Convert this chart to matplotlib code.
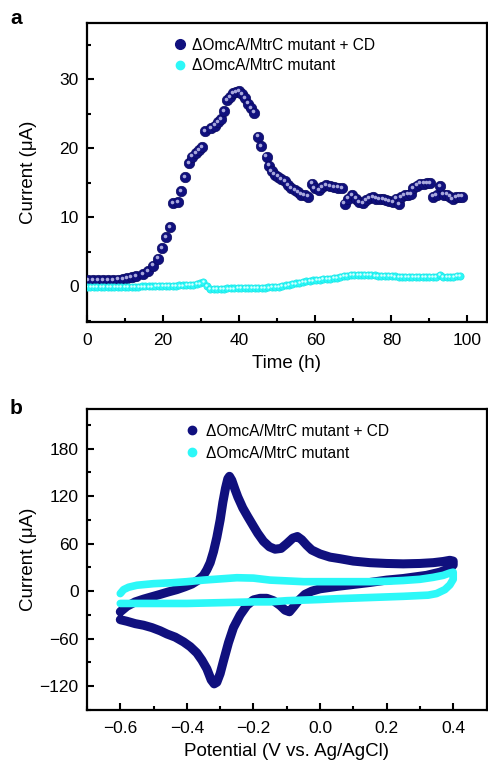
import numpy as np
import matplotlib
matplotlib.use("Agg")
import matplotlib.pyplot as plt
from matplotlib.lines import Line2D
from matplotlib.transforms import offset_copy
from matplotlib.ticker import MultipleLocator

plt.rcParams['font.family'] = ['Liberation Sans', 'DejaVu Sans']
plt.rcParams['mathtext.default'] = 'regular'

NAVY = '#10107e'
NAVY_HI = '#a8a8dc'
CYAN = '#2cf8f8'
CYAN_HI = '#d8ffff'

label_cd = "\u0394OmcA/MtrC mutant + CD"
label_mut = "\u0394OmcA/MtrC mutant"

# ---- panel a: chronoamperometry ----
time_cd = [0.3, 1.6, 2.9, 4.2, 5.5, 6.8, 8.1, 9.4, 10.6, 11.7, 13.0, 14.8, 16.1, 17.4,
           18.7, 19.8, 20.7, 21.9, 22.7, 23.9, 24.8, 25.7, 26.9, 27.7, 28.6, 29.5, 30.3,
           31.0, 32.7, 33.6, 34.5, 35.2, 36.0, 36.8, 37.6, 38.4, 39.2, 40.0, 40.8, 41.6,
           42.4, 43.2, 43.9, 45.0, 45.8, 47.2, 47.9, 48.5, 49.3, 50.2, 51.1, 52.0, 52.8,
           53.7, 54.6, 55.5, 56.3, 57.2, 58.1, 59.1, 59.8, 61.0, 61.8, 62.9, 63.9, 64.9,
           66.0, 67.1, 67.7, 68.6, 69.7, 70.8, 71.6, 72.5, 73.4, 74.3, 75.1, 76.0, 76.9,
           77.8, 78.7, 79.5, 80.4, 81.3, 82.0, 82.6, 83.5, 84.3, 85.2, 85.8, 86.7, 87.6,
           88.5, 89.3, 90.2, 90.9, 91.9, 92.8, 93.7, 94.6, 95.4, 96.1, 97.0, 97.9, 98.6]
current_cd = [0.85, 0.85, 0.85, 0.85, 0.9, 0.9, 0.95, 1.05, 1.2, 1.35, 1.45, 1.7, 2.2, 3.0,
              4.0, 5.5, 7.1, 8.6, 12.1, 12.2, 13.8, 15.8, 17.9, 18.8, 19.3, 19.8, 20.2,
              22.5, 22.9, 23.3, 23.8, 24.3, 25.4, 27.0, 27.5, 28.0, 28.2, 28.3, 27.9, 27.3,
              26.5, 25.8, 25.2, 21.7, 20.3, 18.8, 17.5, 16.7, 16.2, 15.9, 15.6, 15.2, 14.7,
              14.2, 13.9, 13.6, 13.3, 13.2, 13.0, 14.9, 14.2, 14.0, 14.4, 14.7, 14.5, 14.4,
              14.3, 14.2, 12.0, 12.7, 13.2, 12.7, 12.2, 12.1, 12.5, 12.8, 12.9, 12.7, 12.6,
              12.6, 12.5, 12.3, 12.2, 12.7, 11.9, 12.9, 13.2, 13.3, 13.4, 14.2, 14.6, 14.9,
              14.9, 15.0, 15.0, 13.0, 13.2, 14.5, 13.3, 13.3, 13.0, 12.6, 12.9, 13.0, 13.0]

time_mut = np.arange(110) * 0.9  # sampling every 0.9 h
current_mut = [-0.10, -0.10, -0.10, -0.10, -0.10, -0.10, -0.10, -0.10, -0.10, -0.08, -0.08,
               -0.08, -0.06, -0.06, -0.05, -0.05, -0.04, -0.03, -0.02, -0.02, 0.00,
               0.00, 0.02, 0.03, 0.05, 0.06, 0.08, 0.10, 0.12, 0.15, 0.18,
               0.22, 0.28, 0.40, 0.65, 0.05, -0.40,
               -0.38, -0.36, -0.35, -0.34, -0.33, -0.32, -0.31, -0.30, -0.30, -0.28,
               -0.27, -0.26, -0.25, -0.24,
               -0.22, -0.20, -0.17, -0.14, -0.10, -0.05, 0.02, 0.10, 0.20, 0.30,
               0.40, 0.50, 0.60, 0.70, 0.78, 0.85, 0.90, 0.95, 1.00, 1.03,
               1.08, 1.15, 1.25, 1.35, 1.45, 1.52, 1.58, 1.60, 1.62, 1.62,
               1.62, 1.60, 1.58, 1.55, 1.52, 1.50, 1.48, 1.45, 1.45, 1.42,
               1.40, 1.40, 1.38, 1.38, 1.36, 1.35, 1.35, 1.34, 1.33, 1.33,
               1.32, 1.35, 1.60, 1.35, 1.30, 1.38, 1.40, 1.45, 1.50]

# ---- panel b: cyclic voltammetry ----
pot_cd = [-0.600, -0.580, -0.555, -0.530, -0.505, -0.480, -0.456, -0.430, -0.406, -0.385,
          -0.366, -0.350, -0.340, -0.330, -0.320, -0.310, -0.300, -0.292, -0.284, -0.277,
          -0.272, -0.265, -0.255, -0.247, -0.232, -0.217, -0.200, -0.187, -0.170, -0.152,
          -0.135, -0.117, -0.100, -0.082, -0.068, -0.055, -0.040, -0.025, 0.000, 0.030,
          0.060, 0.100, 0.150, 0.200, 0.250, 0.300, 0.340, 0.370, 0.390, 0.400,
          0.400, 0.385, 0.360, 0.320, 0.250, 0.200, 0.150, 0.100, 0.050, 0.000,
          -0.025, -0.045, -0.065, -0.080, -0.092, -0.105, -0.120, -0.140, -0.160, -0.180,
          -0.200, -0.220, -0.240, -0.260, -0.275, -0.290, -0.300, -0.310, -0.318, -0.327,
          -0.340, -0.355, -0.370, -0.390, -0.410, -0.435, -0.460, -0.480, -0.505, -0.530,
          -0.555, -0.580, -0.600]
cur_cd = [-26, -19, -13.5, -10, -7, -4, -1, 2, 5.5, 9,
          14, 20, 27, 36, 50, 68, 90, 112, 130, 142,
          145, 140, 128, 119, 105, 94, 82, 73, 63, 56,
          53, 54, 60, 67, 69, 65, 58, 52, 47, 43,
          41, 38, 36, 35, 34.5, 35, 36, 37.5, 39, 38,
          33, 28, 24, 20, 16, 14, 11, 8.5, 6, 3,
          0, -4, -12, -20, -26, -24, -18, -12, -9, -9,
          -11, -18, -30, -46, -65, -88, -104, -115, -117, -112,
          -98, -87, -78, -70, -64, -58, -54, -50, -46, -43,
          -41, -38, -36]

pot_mut = [-0.600, -0.590, -0.575, -0.550, -0.500, -0.450, -0.400, -0.350, -0.300, -0.250,
           -0.200, -0.150, -0.100, -0.050, 0.000, 0.050, 0.100, 0.150, 0.200, 0.250,
           0.300, 0.340, 0.370, 0.390, 0.400,
           0.400, 0.390, 0.375, 0.350, 0.325, 0.250, 0.150, 0.050, 0.000, -0.100,
           -0.150, -0.200, -0.300, -0.400, -0.500, -0.600]
cur_mut = [-3, 2, 5, 7.5, 9.5, 10.5, 12, 14, 15.5, 17,
           16.5, 14, 13, 12, 12, 12, 12, 12, 12.5, 13.5,
           15, 17.5, 20, 23, 24,
           15, 8, 2, -3, -5, -6.5, -8, -9.5, -10.5, -12,
           -13.5, -13.5, -14.5, -15.5, -15.5, -15.5]

fig = plt.figure(figsize=(4.88, 7.6), dpi=100)
ax1 = fig.add_axes([87 / 488, 1 - 322 / 760, 399.5 / 488, 299 / 760])
ax2 = fig.add_axes([87 / 488, 1 - 710 / 760, 399.5 / 488, 301 / 760])


def style(ax):
    for s in ax.spines.values():
        s.set_linewidth(1.6)
    ax.tick_params(which='both', direction='in', top=False, right=False, width=1.5,
                   labelsize=12.5)
    ax.tick_params(axis='x', pad=8)
    ax.tick_params(axis='y', pad=6)
    ax.tick_params(which='major', length=5)
    ax.tick_params(which='minor', length=3)


# panel a
hi1 = offset_copy(ax1.transData, fig=fig, x=-1.2, y=1.2, units='dots')
ax1.plot(time_cd, current_cd, 'o', ms=7.5, color=NAVY, mec='#0a0a60', mew=0.5, zorder=3)
ax1.plot(time_cd, current_cd, 'o', ms=2.6, color=NAVY_HI, mew=0, zorder=4, transform=hi1)
ax1.plot(time_mut, current_mut, 'o', ms=5.2, color=CYAN, mec='#1ae6e6', mew=0.5, zorder=5)
ax1.plot(time_mut, current_mut, 'o', ms=1.8, color=CYAN_HI, mew=0, zorder=6,
         transform=offset_copy(ax1.transData, fig=fig, x=-0.8, y=0.8, units='dots'))
ax1.set_xlim(0, 105)
ax1.set_ylim(-5.2, 38.2)
ax1.xaxis.set_major_locator(MultipleLocator(20))
ax1.xaxis.set_minor_locator(MultipleLocator(10))
ax1.yaxis.set_minor_locator(MultipleLocator(5))
ax1.set_yticks([0, 10, 20, 30])
style(ax1)
ax1.set_xlabel("Time (h)", fontsize=13.5, labelpad=5)
ax1.set_ylabel("Current (\u03bcA)", fontsize=13.5)
ax1.yaxis.set_label_coords(-0.125, 0.5)

h_cd = Line2D([], [], ls='none', marker='o', ms=7, color=NAVY)
h_mut = Line2D([], [], ls='none', marker='o', ms=6, color=CYAN)
ax1.legend([h_cd, h_mut], [label_cd, label_mut], loc='upper left',
           bbox_to_anchor=(0.195, 0.972), frameon=False, fontsize=11.2,
           handletextpad=0.15, handlelength=1.2, borderaxespad=0, labelspacing=0.35)

# panel b
ax2.plot(pot_cd, cur_cd, '-', lw=6.5, color=NAVY, solid_joinstyle='round',
         solid_capstyle='round', zorder=3)
ax2.plot(pot_mut, cur_mut, '-', lw=5.5, color=CYAN, solid_joinstyle='round',
         solid_capstyle='round', zorder=4)
ax2.set_xlim(-0.7, 0.5)
ax2.set_ylim(-150, 230)
ax2.set_xticks([-0.6, -0.4, -0.2, 0.0, 0.2, 0.4])
ax2.set_xticklabels(["\u22120.6", "\u22120.4", "\u22120.2", "0.0", "0.2", "0.4"])
ax2.xaxis.set_minor_locator(MultipleLocator(0.1))
ax2.set_yticks([-120, -60, 0, 60, 120, 180])
ax2.set_yticklabels(["\u2212120", "\u221260", "0", "60", "120", "180"])
ax2.yaxis.set_minor_locator(MultipleLocator(30))
style(ax2)
ax2.set_xlabel("Potential (V vs. Ag/AgCl)", fontsize=13.5, labelpad=5)
ax2.set_ylabel("Current (\u03bcA)", fontsize=13.5)
ax2.yaxis.set_label_coords(-0.125, 0.5)

h_cd2 = Line2D([], [], ls='none', marker='o', ms=6, color=NAVY)
h_mut2 = Line2D([], [], ls='none', marker='o', ms=6, color=CYAN)
ax2.legend([h_cd2, h_mut2], [label_cd, label_mut], loc='upper left',
           bbox_to_anchor=(0.225, 0.972), frameon=False, fontsize=11.2,
           handletextpad=0.3, handlelength=1.2, borderaxespad=0, labelspacing=0.45)

fig.text(10 / 488, 1 - 18 / 760, 'a', fontsize=15, fontweight='bold', va='center')
fig.text(10 / 488, 1 - 408 / 760, 'b', fontsize=15, fontweight='bold', va='center')

fig.savefig('out.png', dpi=100)
